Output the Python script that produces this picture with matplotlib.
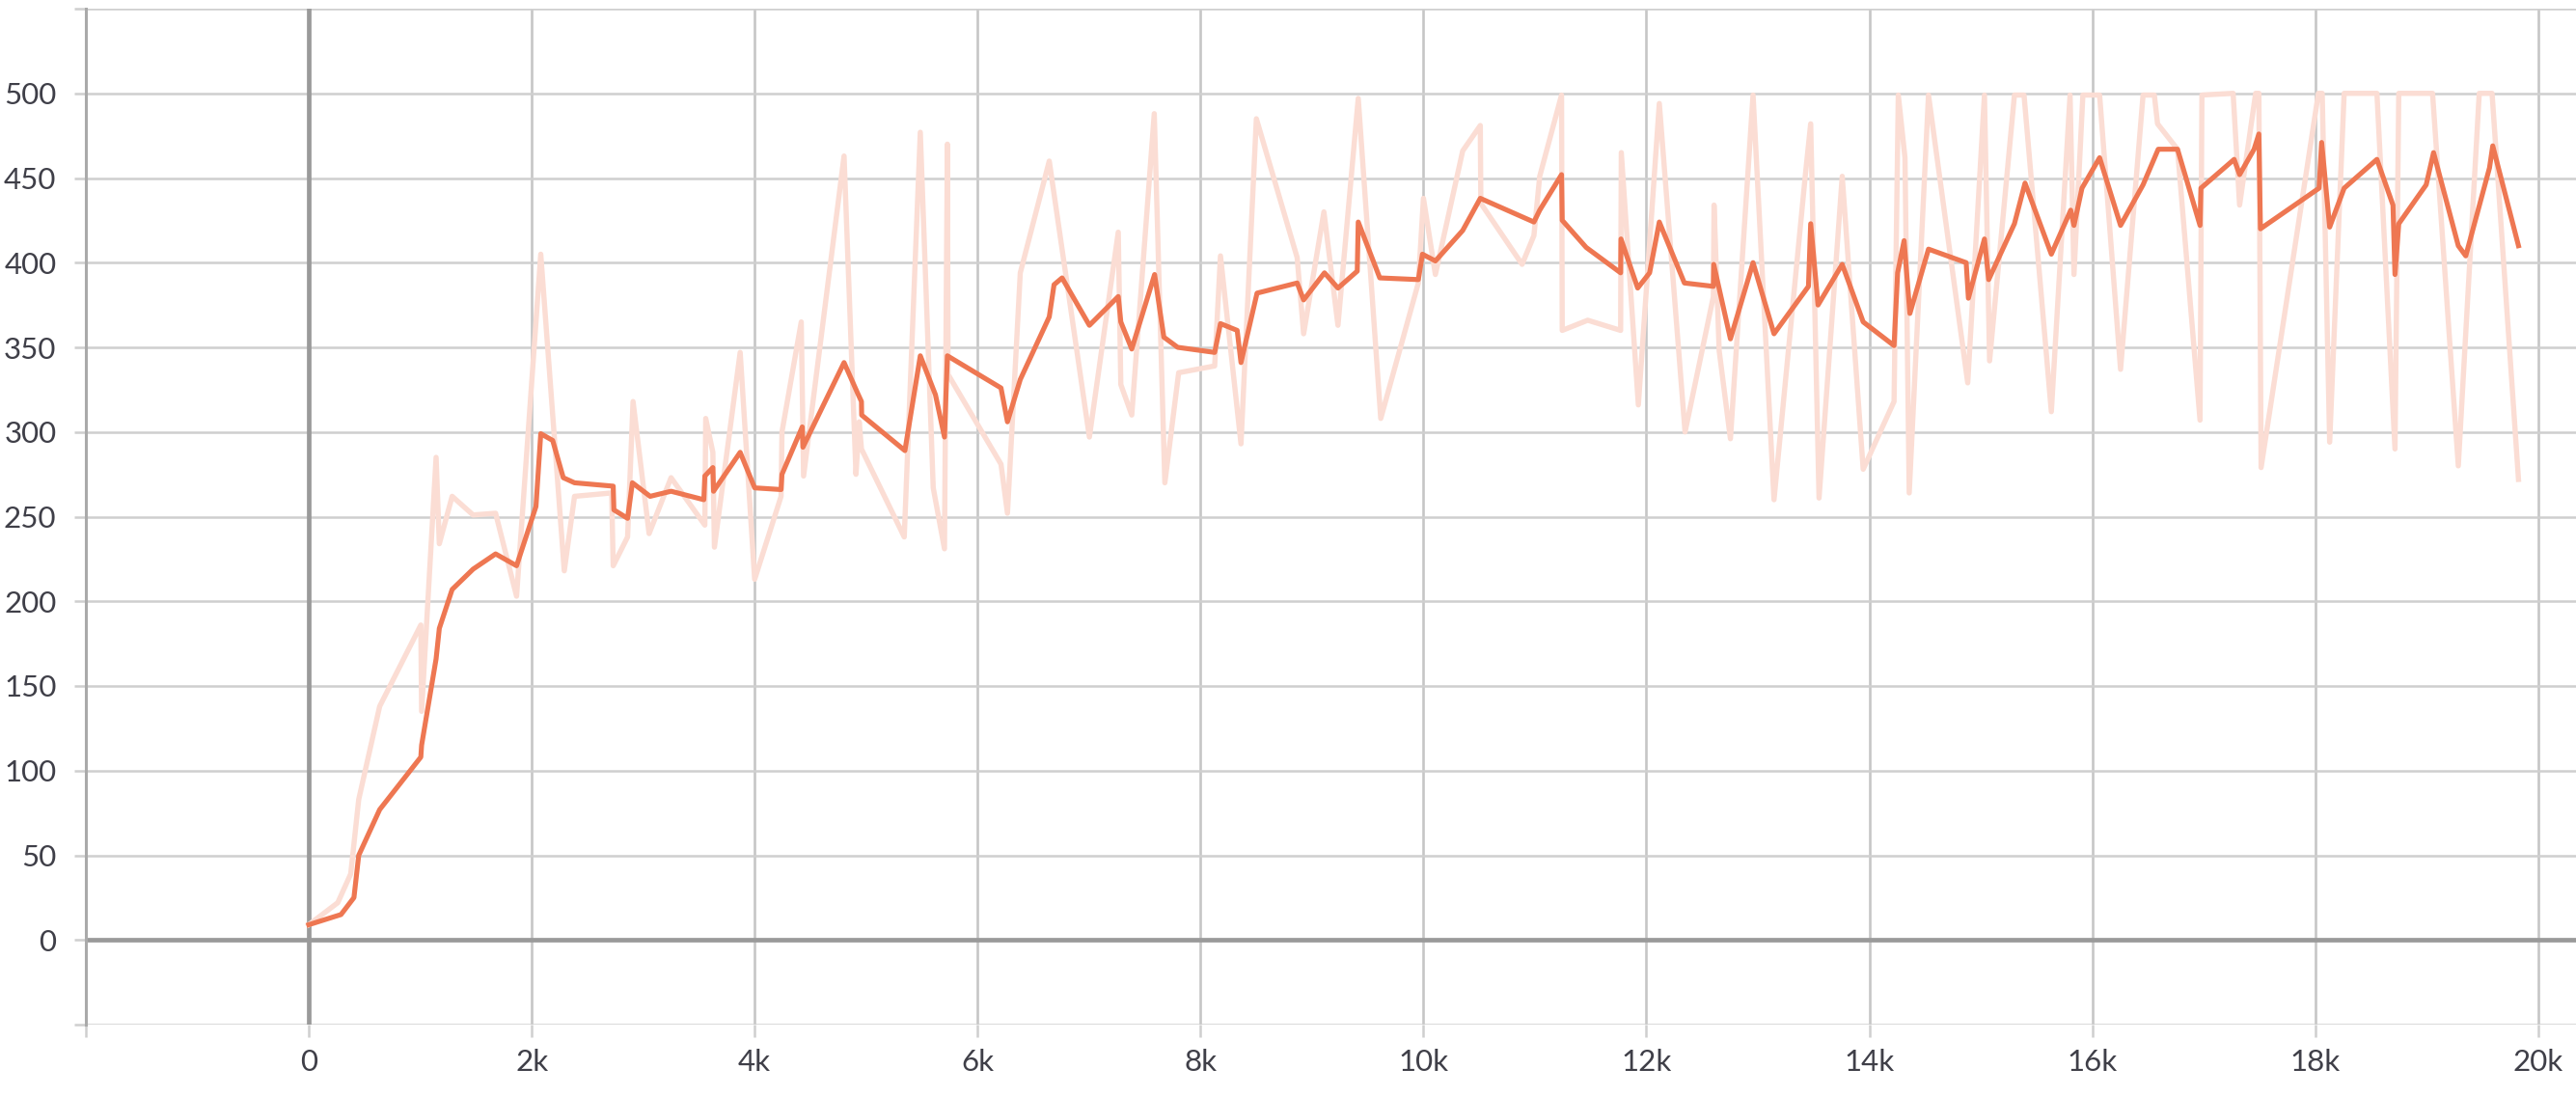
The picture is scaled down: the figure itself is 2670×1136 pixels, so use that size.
import matplotlib.pyplot as plt

# raw episode reward (light trace)
raw_steps = [0, 260, 376, 448, 636, 1005, 1012, 1142, 1171, 1286, 1474, 1676, 1864, 2081,
             2292, 2384, 2717, 2731, 2860, 2909, 3053, 3250, 3553, 3561, 3625, 3639, 3870,
             4000, 4237, 4245, 4418, 4439, 4802, 4909, 4938, 4958, 5342, 5486, 5602, 5703,
             5729, 5735, 6210, 6268, 6383, 6643, 7003, 7262, 7285, 7383, 7585, 7680, 7804,
             8127, 8179, 8363, 8501, 8867, 8925, 9107, 9233, 9415, 9617, 9954, 10000, 10107,
             10352, 10510, 10515, 10885, 10991, 11043, 11239, 11245, 11474, 11769, 11775,
             11928, 12116, 12347, 12601, 12607, 12653, 12754, 12957, 13145, 13425, 13474,
             13549, 13757, 13945, 14222, 14260, 14320, 14358, 14531, 14883, 15033, 15079,
             15302, 15388, 15633, 15801, 15836, 15916, 16066, 16254, 16456, 16557, 16586,
             16765, 16967, 16984, 17264, 17322, 17466, 17495, 17515, 18029, 18063, 18130,
             18260, 18554, 18716, 18750, 19053, 19284, 19472, 19587, 19824]
raw_values = [9, 22, 39, 83, 138, 186, 135, 285, 234, 262, 251, 252, 203, 405,
              218, 262, 264, 221, 238, 318, 240, 273, 245, 308, 288, 232, 347,
              213, 262, 300, 365, 274, 463, 275, 306, 290, 238, 477, 267, 231,
              470, 334, 281, 252, 394, 460, 297, 418, 328, 310, 488, 270, 335,
              339, 404, 293, 485, 403, 358, 430, 363, 497, 308, 388, 438, 393,
              466, 481, 435, 399, 416, 451, 499, 360, 366, 360, 465,
              316, 494, 300, 380, 434, 348, 296, 499, 260, 451, 482,
              261, 451, 278, 318, 499, 462, 264, 499, 329, 499, 342,
              499, 499, 312, 499, 393, 499, 499, 337, 499, 499, 482,
              467, 307, 499, 500, 434, 500, 500, 279, 500, 500, 294,
              500, 500, 290, 500, 500, 280, 500, 500, 272]

# smoothed trace
smooth_steps = [0, 289, 405, 448, 636, 1005, 1012, 1142, 1171, 1286, 1474, 1676, 1864, 2038,
                2081, 2188, 2283, 2384, 2731, 2737, 2860, 2903, 3062, 3250, 3544, 3553, 3625,
                3631, 3870, 4000, 4237, 4245, 4427, 4433, 4802, 4923, 4958, 4960, 5348, 5486,
                5622, 5703, 5729, 6210, 6268, 6383, 6643, 6686, 6758, 7003, 7262, 7285, 7383,
                7588, 7671, 7795, 8127, 8179, 8329, 8363, 8507, 8867, 8925, 9112, 9233, 9406,
                9415, 9608, 9954, 9991, 10107, 10352, 10510, 10991, 11043, 11239, 11245, 11460,
                11769, 11772, 11922, 12029, 12116, 12341, 12601, 12604, 12754, 12957, 13145,
                13454, 13474, 13540, 13757, 13945, 14222, 14254, 14312, 14364, 14531, 14869,
                14889, 15033, 15071, 15302, 15397, 15633, 15807, 15836, 15908, 16066, 16254,
                16456, 16592, 16765, 16967, 16975, 17273, 17322, 17452, 17495, 17509, 18035,
                18058, 18130, 18260, 18554, 18698, 18716, 18750, 18996, 19062, 19284, 19351,
                19564, 19593, 19824]
smooth_values = [9, 15, 25, 50, 77, 108, 115, 166, 184, 207, 219, 228, 221, 256,
                 299, 295, 273, 270, 268, 254, 249, 270, 262, 265, 260, 274, 279,
                 265, 288, 267, 266, 275, 303, 291, 341, 323, 318, 310, 289, 345,
                 322, 297, 345, 326, 306, 331, 368, 387, 391, 363, 380, 365, 349,
                 393, 356, 350, 347, 364, 360, 341, 382, 388, 378, 394, 385, 395,
                 424, 391, 390, 405, 401, 419, 438, 424, 431, 452, 425, 409,
                 394, 414, 385, 394, 424, 388, 386, 399, 355, 400, 358,
                 386, 423, 375, 399, 365, 351, 394, 413, 370, 408, 400,
                 379, 414, 390, 423, 447, 405, 431, 422, 444, 462, 422,
                 446, 467, 467, 422, 444, 461, 452, 467, 476, 420, 444,
                 471, 421, 444, 461, 434, 393, 423, 446, 465, 410, 404,
                 456, 469, 410]

y_ticks = list(range(-50, 551, 50))
x_ticks = list(range(-2000, 20001, 2000))

def x_label(v):
    if v < 0:
        return ''
    if v == 0:
        return '0'
    return '%dk' % (v // 1000)

plt.rcParams['font.family'] = ['Lato', 'DejaVu Sans']

fig = plt.figure(figsize=(26.7, 11.36), dpi=100)
ax = fig.add_axes([89/2670, 1 - 1062/1136, 1 - 89/2670, (1062 - 9)/1136])

ax.plot(raw_steps, raw_values, color='#fbddd4', lw=3.9, zorder=3)
ax.plot(smooth_steps, smooth_values, color='#ee7752', lw=3.7, zorder=4)

ax.axhline(0, color='#9a9a9a', lw=3.4, zorder=2)
ax.axvline(0, color='#9a9a9a', lw=3.4, zorder=2)

ax.set_xlim(-2000, 20340)
ax.set_ylim(-50, 550)
ax.set_yticks(y_ticks)
ax.set_yticklabels(['' if (v < 0 or v > 500) else str(v) for v in y_ticks])
ax.set_xticks(x_ticks)
ax.set_xticklabels([x_label(v) for v in x_ticks])

ax.grid(True, color='#cfcfcf', lw=1.8, zorder=1)
ax.grid(True, axis='x', color='#c6c6c6', lw=1.9)
ax.set_axisbelow(True)
for s in ['top', 'right', 'bottom']:
    ax.spines[s].set_visible(False)
ax.spines['left'].set_color('#aaaaaa')
ax.spines['left'].set_linewidth(2.2)

ax.tick_params(axis='both', colors='#cfcfcf', length=9, width=1.8,
               labelcolor='#3f3f48', labelsize=22.5)
ax.tick_params(axis='y', pad=13)
ax.tick_params(axis='x', pad=9)

fig.savefig('out.png', dpi=100)
